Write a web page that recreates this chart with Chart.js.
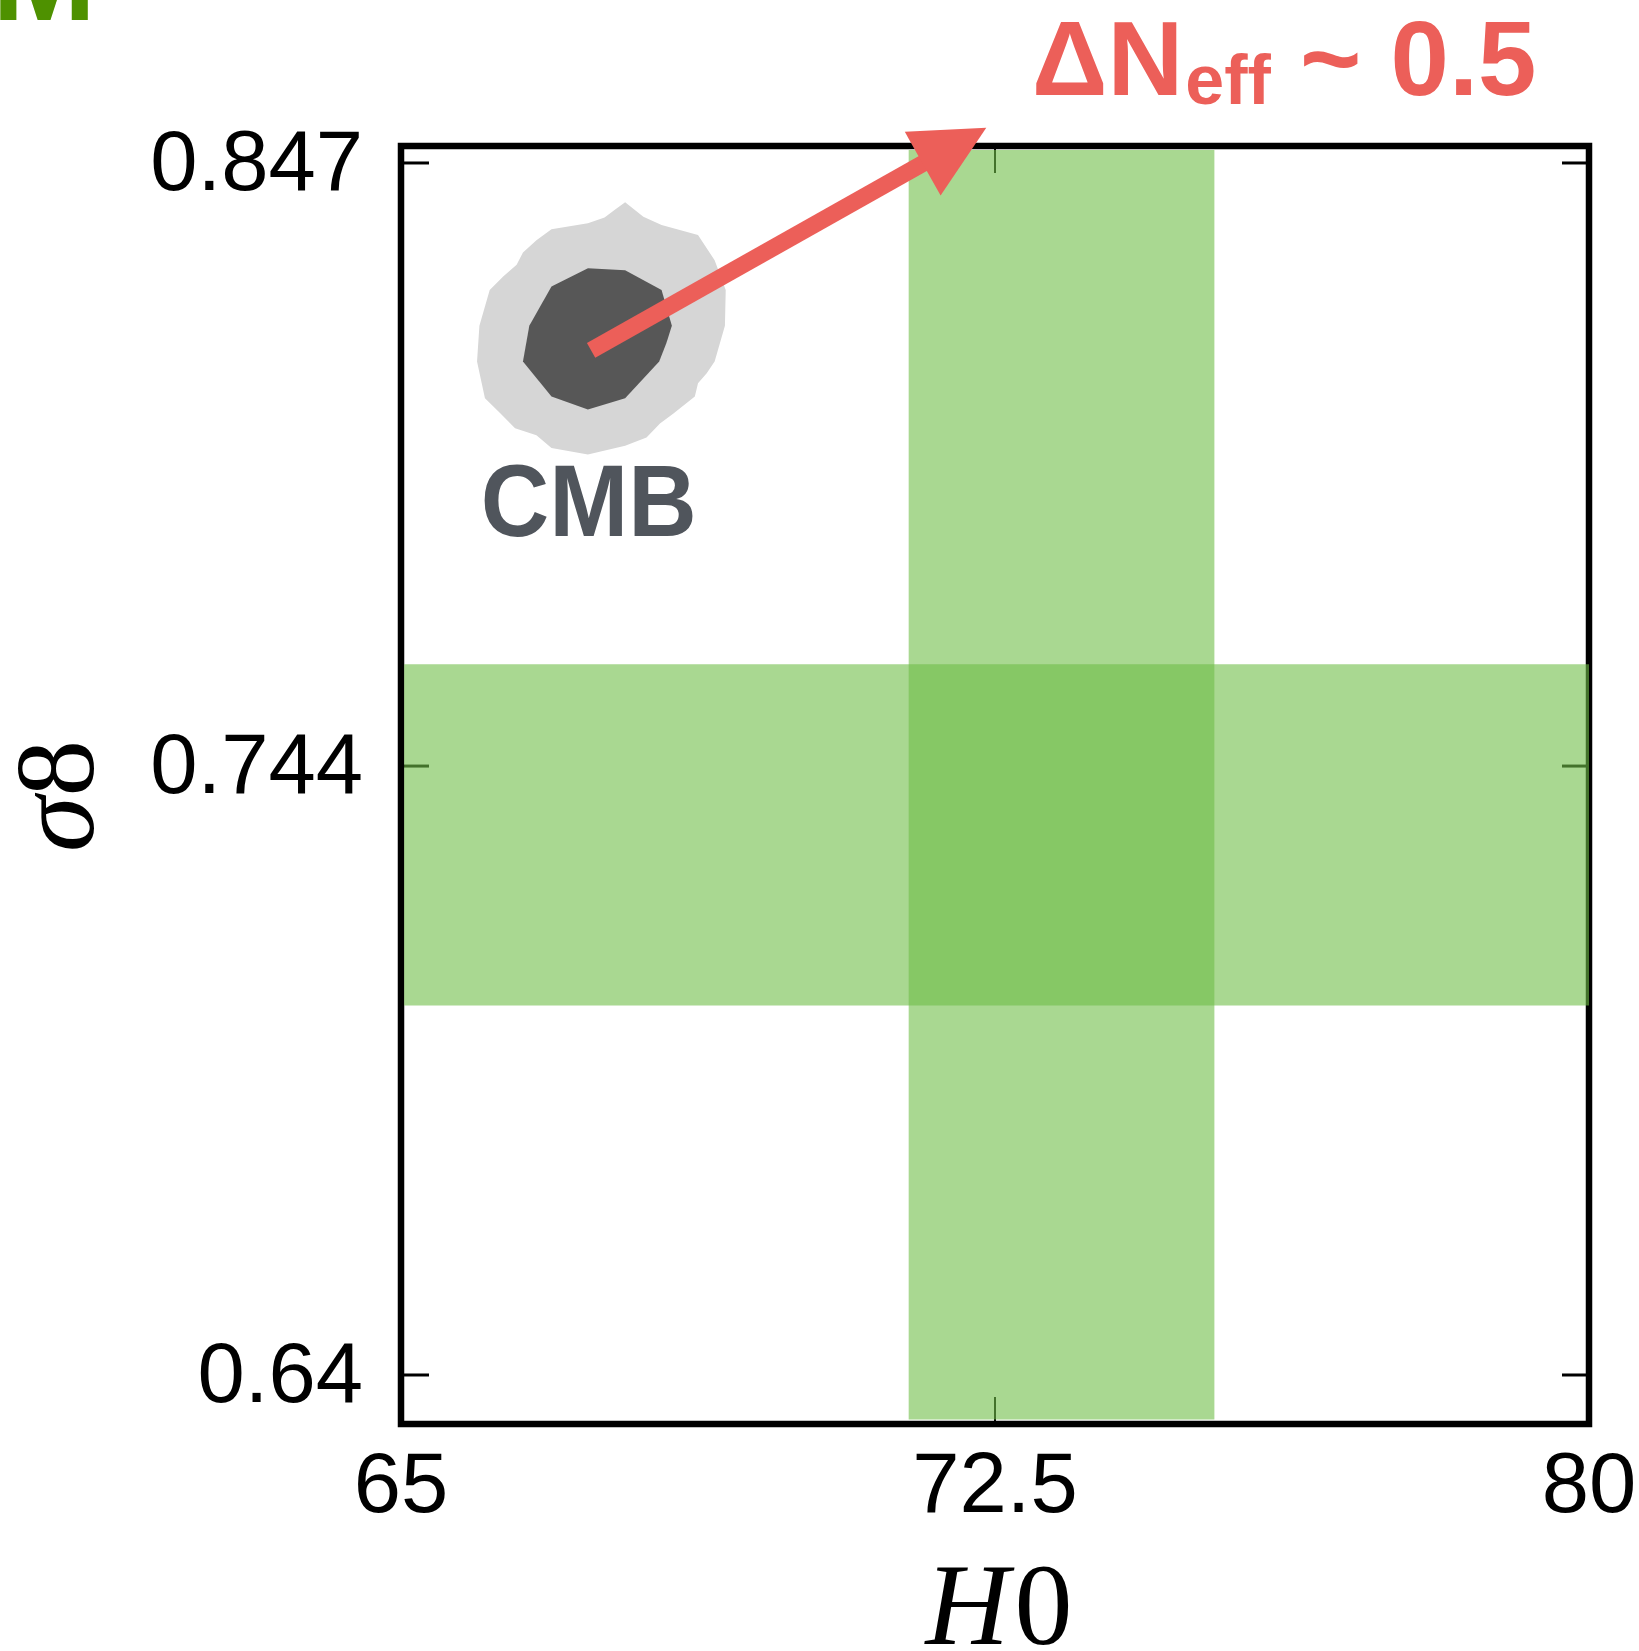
<!DOCTYPE html>
<html>
<head>
<meta charset="utf-8">
<title>H0 – sigma8 plane</title>
<script src="https://cdn.jsdelivr.net/npm/chart.js@4.4.1/dist/chart.umd.min.js"></script>
<style>
  html, body { margin: 0; padding: 0; background: #ffffff; }
  canvas { display: block; }
</style>
</head>
<body>
<canvas id="chart" width="1639" height="1651"></canvas>
<script>
// ---- axis ranges and ticks ----
const h0Range = [65, 80];
const sigma8Range = [0.63163, 0.8499];
const h0Ticks = [65, 72.5, 80];
const h0TickLabels = ['65', '72.5', '80'];
const sigma8Ticks = [0.64, 0.744, 0.847];
const sigma8TickLabels = ['0.64', '0.744', '0.847'];

// ---- local measurement bands ----
const h0BandH0 = [71.41, 75.27];
const h0BandSigma8 = [0.6324, 0.8492];
const s8BandH0 = [65.04, 80.05];
const s8BandSigma8 = [0.7031, 0.7614];

// ---- CMB confidence contours (outer = 2 sigma, inner = 1 sigma) ----
const cmbOuterH0 = [67.83, 67.70, 67.57, 67.36, 66.90, 66.71, 66.54, 66.46, 66.29, 66.12,
                    65.99, 65.96, 66.06, 66.25, 66.44, 66.71, 66.90, 67.36, 67.83, 68.10,
                    68.27, 68.44, 68.71, 68.75, 68.86, 68.96, 69.09, 69.10, 68.96, 68.75,
                    68.29, 68.06];
const cmbOuterSigma8 = [0.8403, 0.8390, 0.8377, 0.8367, 0.8357, 0.8338, 0.8317, 0.8296, 0.8276, 0.8253,
                        0.8192, 0.8131, 0.8068, 0.8043, 0.8017, 0.8005, 0.7983, 0.7972, 0.7987, 0.8001,
                        0.8025, 0.8042, 0.8071, 0.8094, 0.8111, 0.8131, 0.8192, 0.8253, 0.8304, 0.8347,
                        0.8364, 0.8378];
const cmbInnerH0 = [67.36, 67.83, 68.29, 68.42, 68.35, 68.26, 67.83, 67.36, 66.90, 66.54, 66.62, 66.90];
const cmbInnerSigma8 = [0.8290, 0.8287, 0.8253, 0.8192, 0.8162, 0.8131, 0.8068, 0.8049, 0.8071, 0.8131, 0.8192, 0.8259];

// ---- shift arrow (start, tip) and label anchors ----
const arrowH0 = [67.40, 72.39];
const arrowSigma8 = [0.8150, 0.8530];
const cmbLabelText = 'CMB';
const cmbLabelAt = [67.37, 0.7833];

const RED = '#EC5F59';
const BAND = 'rgba(112, 190, 72, 0.6)';
const SANS = '"Liberation Sans", Arial, Helvetica, sans-serif';
const SERIF = '"Liberation Serif", "Times New Roman", serif';

function polygon(xs, ys) {
  const pts = xs.map((x, i) => ({ x: x, y: ys[i] }));
  pts.push({ x: xs[0], y: ys[0] });
  return pts;
}
function rectangle(xr, yr) {
  return polygon([xr[0], xr[0], xr[1], xr[1]], [yr[0], yr[1], yr[1], yr[0]]);
}
function shape(label, data, color, order, clip) {
  return {
    label: label, data: data, showLine: true, fill: 'shape',
    backgroundColor: color, borderColor: 'rgba(0,0,0,0)', borderWidth: 0,
    pointRadius: 0, pointHoverRadius: 0, tension: 0, order: order, clip: clip
  };
}

// frame and inward ticks, drawn beneath the datasets
const framePlugin = {
  id: 'frame',
  beforeDatasetsDraw(chart) {
    const { ctx, chartArea: a, scales: { x, y } } = chart;
    const seg = (x1, y1, x2, y2) => { ctx.beginPath(); ctx.moveTo(x1, y1); ctx.lineTo(x2, y2); ctx.stroke(); };
    ctx.save();
    ctx.strokeStyle = '#000';
    ctx.lineCap = 'butt';
    ctx.lineWidth = 3;
    sigma8Ticks.forEach(v => {
      const py = y.getPixelForValue(v);
      seg(a.left, py, a.left + 28, py);
      seg(a.right - 27, py, a.right, py);
    });
    ctx.lineWidth = 2;
    h0Ticks.forEach(v => {
      const px = x.getPixelForValue(v);
      seg(px, a.bottom, px, a.bottom - 27);
      seg(px, a.top, px, a.top + 27);
    });
    ctx.lineWidth = 6.5;
    ctx.lineJoin = 'miter';
    ctx.strokeRect(a.left, a.top, a.right - a.left, a.bottom - a.top);
    ctx.restore();
  }
};

// arrow from the CMB contour towards the local measurements
const arrowPlugin = {
  id: 'shiftArrow',
  afterDatasetsDraw(chart) {
    const { ctx, scales: { x, y } } = chart;
    const x0 = x.getPixelForValue(arrowH0[0]), y0 = y.getPixelForValue(arrowSigma8[0]);
    const x1 = x.getPixelForValue(arrowH0[1]), y1 = y.getPixelForValue(arrowSigma8[1]);
    const len = Math.hypot(x1 - x0, y1 - y0);
    const ux = (x1 - x0) / len, uy = (y1 - y0) / len;
    const nx = -uy, ny = ux;
    const shaftHalf = 8.5, headLen = 73, headHalf = 36.5;
    const bx = x1 - ux * headLen, by = y1 - uy * headLen;
    ctx.save();
    ctx.fillStyle = RED;
    ctx.beginPath();
    ctx.moveTo(x0 + nx * shaftHalf, y0 + ny * shaftHalf);
    ctx.lineTo(bx + ux * 2 + nx * shaftHalf, by + uy * 2 + ny * shaftHalf);
    ctx.lineTo(bx + ux * 2 - nx * shaftHalf, by + uy * 2 - ny * shaftHalf);
    ctx.lineTo(x0 - nx * shaftHalf, y0 - ny * shaftHalf);
    ctx.closePath();
    ctx.fill();
    ctx.beginPath();
    ctx.moveTo(x1, y1);
    ctx.lineTo(bx + nx * headHalf, by + ny * headHalf);
    ctx.lineTo(bx - nx * headHalf, by - ny * headHalf);
    ctx.closePath();
    ctx.fill();
    ctx.restore();
  }
};

// labels: CMB, the header, and the axis titles
const textPlugin = {
  id: 'labels',
  afterDraw(chart) {
    const { ctx, chartArea: a, scales: { x, y } } = chart;
    ctx.save();

    // cropped panel letter at the top-left corner
    ctx.fillStyle = '#4E9100';
    ctx.font = 'bold 125px ' + SANS;
    ctx.textAlign = 'left';
    ctx.textBaseline = 'alphabetic';
    ctx.fillText('M', -8, 20);

    // CMB label (slightly condensed bold sans)
    ctx.save();
    ctx.fillStyle = '#50555C';
    ctx.font = 'bold 102px ' + SANS;
    ctx.textAlign = 'center';
    ctx.translate(x.getPixelForValue(cmbLabelAt[0]), y.getPixelForValue(cmbLabelAt[1]));
    ctx.scale(0.93, 1);
    ctx.fillText(cmbLabelText, 0, 0);
    ctx.restore();

    // header: Delta N_eff ~ 0.5
    ctx.fillStyle = RED;
    ctx.textAlign = 'left';
    let hx = 1032;
    ctx.font = 'bold 105px ' + SANS;
    ctx.fillText('ΔN', hx, 95);
    hx += ctx.measureText('ΔN').width + 2;
    ctx.font = 'bold 70px ' + SANS;
    ctx.fillText('eff', hx, 104);
    hx += ctx.measureText('eff').width;
    ctx.font = 'bold 105px ' + SANS;
    ctx.fillText(' ~ 0.5', hx, 95);

    // x axis title: H0
    ctx.fillStyle = '#000';
    ctx.font = 'italic 116px ' + SERIF;
    const wH = ctx.measureText('H').width;
    ctx.font = '116px ' + SERIF;
    const w0 = ctx.measureText('0').width;
    const cx = x.getPixelForValue(72.5) + 4;
    const base = 1644;
    let tx = cx - (wH + w0 + 5) / 2;
    ctx.font = 'italic 116px ' + SERIF;
    ctx.fillText('H', tx, base);
    ctx.font = '116px ' + SERIF;
    ctx.fillText('0', tx + wH + 5, base);

    // y axis title: sigma8, rotated
    ctx.translate(93, (a.top + a.bottom) / 2 + 11);
    ctx.rotate(-Math.PI / 2);
    ctx.font = 'italic 113px ' + SERIF;
    const wS = ctx.measureText('σ').width;
    ctx.font = '113px ' + SERIF;
    const w8 = ctx.measureText('8').width;
    tx = -(wS + w8) / 2;
    ctx.font = 'italic 113px ' + SERIF;
    ctx.fillText('σ', tx, 0);
    ctx.font = '113px ' + SERIF;
    ctx.fillText('8', tx + wS, 0);

    ctx.restore();
  }
};

const tickFont = { family: SANS, size: 85 };

new Chart(document.getElementById('chart'), {
  type: 'scatter',
  data: {
    datasets: [
      shape('CMB 1σ', polygon(cmbInnerH0, cmbInnerSigma8), '#575757', 1, true),
      shape('CMB 2σ', polygon(cmbOuterH0, cmbOuterSigma8), '#D6D6D6', 2, true),
      shape('σ8 band', rectangle(s8BandH0, s8BandSigma8), BAND, 3, false),
      shape('H0 band', rectangle(h0BandH0, h0BandSigma8), BAND, 4, false)
    ]
  },
  options: {
    responsive: false,
    devicePixelRatio: 1,
    animation: false,
    events: [],
    layout: { padding: { left: 0, right: 50, top: 146, bottom: 0 } },
    plugins: {
      legend: { display: false },
      tooltip: { enabled: false },
      title: { display: false }
    },
    scales: {
      x: {
        type: 'linear', position: 'bottom', bounds: 'data',
        min: h0Range[0], max: h0Range[1],
        afterBuildTicks: s => { s.ticks = h0Ticks.map(v => ({ value: v })); },
        afterFit: s => { s.height = 227; s.paddingLeft = 0; s.paddingRight = 0; },
        grid: { display: false, drawTicks: false },
        border: { display: false },
        ticks: {
          autoSkip: false, maxRotation: 0, minRotation: 0, padding: 14,
          color: '#000', font: tickFont,
          callback: v => h0TickLabels[h0Ticks.indexOf(v)]
        }
      },
      y: {
        type: 'linear', position: 'left', bounds: 'data',
        min: sigma8Range[0], max: sigma8Range[1],
        afterBuildTicks: s => { s.ticks = sigma8Ticks.map(v => ({ value: v })); },
        afterFit: s => { s.width = 401; s.paddingTop = 0; s.paddingBottom = 0; },
        grid: { display: false, drawTicks: false },
        border: { display: false },
        ticks: {
          autoSkip: false, padding: 38, labelOffset: 4,
          color: '#000', font: tickFont,
          callback: v => sigma8TickLabels[sigma8Ticks.indexOf(v)]
        }
      }
    }
  },
  plugins: [framePlugin, arrowPlugin, textPlugin]
});
</script>
</body>
</html>
